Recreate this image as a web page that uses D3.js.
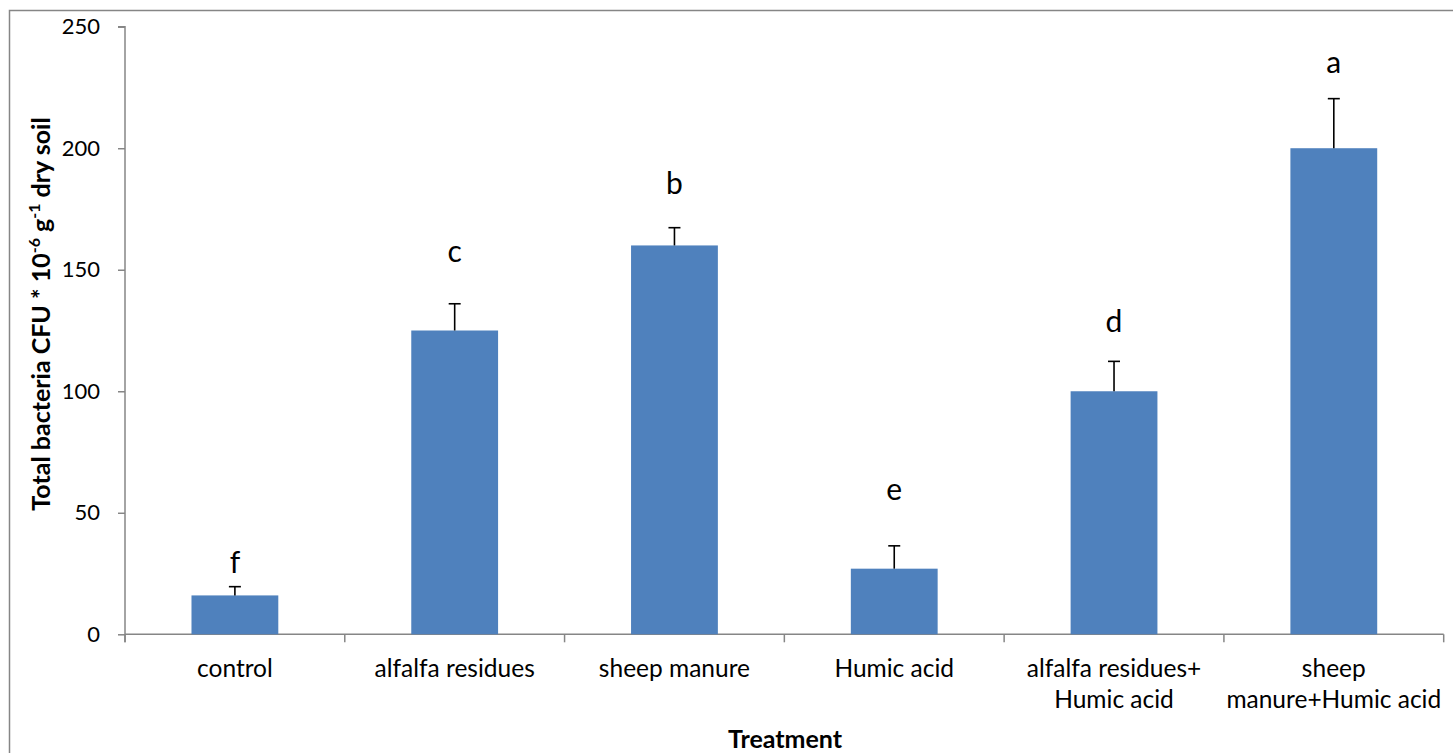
<!DOCTYPE html>
<html>
<head>
<meta charset="utf-8">
<script src="https://cdn.jsdelivr.net/npm/d3@7"></script>
<style>
  html, body { margin: 0; padding: 0; background: #fff; }
  svg { display: block; font-family: Lato, "Open Sans", sans-serif; }
</style>
</head>
<body>
<svg id="chart" width="1453" height="753"></svg>
<script>
// Treatments and measured total bacteria counts
const categories = [
  "control",
  "alfalfa residues",
  "sheep manure",
  "Humic acid",
  "alfalfa residues+\nHumic acid",
  "sheep\nmanure+Humic acid"
];
const means = [16, 125, 160, 27, 100, 200];
const errors = [3.6, 11, 7.3, 9.4, 12.3, 20.4];
// significance groups and the axis level each letter sits at
const letters = ["f", "c", "b", "e", "d", "a"];
const letterLevel = [25.3, 153.1, 181.3, 55.3, 124.3, 230.9];
const yTicks = [0, 50, 100, 150, 200, 250];

const svg = d3.select("#chart");
const axisColor = "#868686";
const barColor = "#4F81BD";

// chart frame
svg.append("rect")
  .attr("x", 9.5).attr("y", 10.5)
  .attr("width", 1460).attr("height", 760)
  .attr("fill", "none").attr("stroke", axisColor).attr("stroke-width", 1.5);

const x = d3.scaleBand()
  .domain(categories)
  .range([125, 1443.7])
  .paddingInner(0.605)
  .paddingOuter(0.3025);

const step = x.step();
const y = d3.scaleLinear().domain([0, 250]).range([634.3, 26.7]);

// y axis
const yAxis = svg.append("g").attr("transform", "translate(125,0)")
  .call(d3.axisLeft(y).tickValues(yTicks).tickSize(7).tickPadding(18).tickFormat(d3.format("d")));
yAxis.select(".domain").attr("stroke", axisColor).attr("stroke-width", 1.5)
  .attr("d", `M-7,${y(250)}H0V${y(0) + 8}`);
yAxis.selectAll(".tick line").attr("stroke", axisColor).attr("stroke-width", 1.5);
yAxis.selectAll(".tick text").attr("font-size", 22).attr("fill", "#000")
  .attr("font-family", "Lato, 'Open Sans', sans-serif");

// x axis baseline and category separators
const xAxisG = svg.append("g");
xAxisG.append("line")
  .attr("x1", 125).attr("x2", 1443.7)
  .attr("y1", y(0)).attr("y2", y(0))
  .attr("stroke", axisColor).attr("stroke-width", 1.5);
const boundaries = categories.map(c => x(c) - (step - x.bandwidth()) / 2);
boundaries.push(1443.7);
xAxisG.selectAll("line.sep").data(boundaries).enter().append("line")
  .attr("class", "sep")
  .attr("x1", d => d).attr("x2", d => d)
  .attr("y1", y(0)).attr("y2", y(0) + 8)
  .attr("stroke", axisColor).attr("stroke-width", 1.5);

// category labels (wrapped)
const catText = xAxisG.selectAll("text.cat").data(categories).enter().append("text")
  .attr("class", "cat")
  .attr("text-anchor", "middle")
  .attr("font-size", 24.5)
  .attr("fill", "#000");
catText.each(function(d) {
  const lines = d.split("\n");
  const t = d3.select(this);
  lines.forEach((ln, i) => {
    t.append("tspan")
      .attr("x", x(d) + x.bandwidth() / 2)
      .attr("y", 677 + i * 31)
      .text(ln);
  });
});

// bars
svg.append("g").selectAll("rect").data(categories).enter().append("rect")
  .attr("x", d => x(d))
  .attr("width", x.bandwidth())
  .attr("y", (d, i) => y(means[i]))
  .attr("height", (d, i) => y(0) - y(means[i]))
  .attr("fill", barColor);

// error bars (upper)
const eb = svg.append("g").attr("stroke", "#000").attr("stroke-width", 1.6);
categories.forEach((c, i) => {
  const cx = x(c) + x.bandwidth() / 2;
  const top = y(means[i] + errors[i]);
  eb.append("line").attr("x1", cx).attr("x2", cx).attr("y1", y(means[i])).attr("y2", top);
  eb.append("line").attr("x1", cx - 6).attr("x2", cx + 6).attr("y1", top).attr("y2", top);
});

// significance letters
svg.append("g").selectAll("text").data(letters).enter().append("text")
  .attr("x", (d, i) => x(categories[i]) + x.bandwidth() / 2)
  .attr("y", (d, i) => y(letterLevel[i]))
  .attr("text-anchor", "middle")
  .attr("font-size", 30)
  .attr("fill", "#000")
  .text(d => d);

// axis titles
svg.append("text")
  .attr("x", 785).attr("y", 748)
  .attr("text-anchor", "middle")
  .attr("font-size", 25).attr("font-weight", "bold")
  .text("Treatment");

const yt = svg.append("text")
  .attr("transform", "translate(50,314) rotate(-90)")
  .attr("text-anchor", "middle")
  .attr("font-size", 25).attr("font-weight", "bold");
yt.append("tspan").text("Total bacteria CFU * 10");
yt.append("tspan").attr("font-size", 16).attr("dy", -10).text("-6");
yt.append("tspan").attr("dy", 10).text(" g");
yt.append("tspan").attr("font-size", 16).attr("dy", -10).text("-1");
yt.append("tspan").attr("dy", 10).text("  dry soil");
</script>
</body>
</html>
